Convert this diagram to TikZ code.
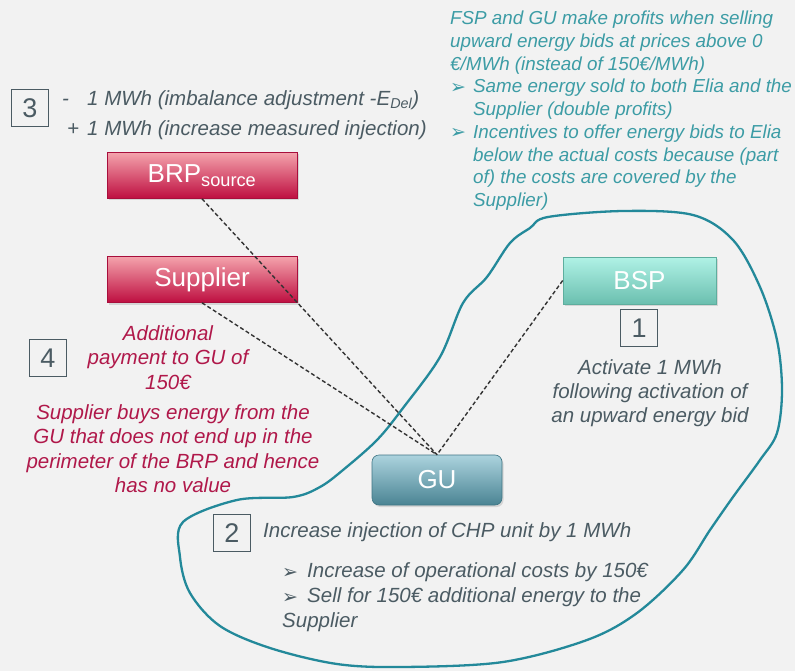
\documentclass[tikz,border=0pt]{standalone}
\usepackage{fontspec}
\setmainfont{Liberation Sans}
\newfontfamily\dingfont{DejaVu Sans}
\usetikzlibrary{shadows}
\definecolor{bgfill}{HTML}{F2F2F2}
\definecolor{fsptxt}{HTML}{3C9CA5}
\definecolor{gutxt}{HTML}{4B5B63}
\definecolor{suptxt}{HTML}{B0184A}
\definecolor{loopline}{HTML}{23899A}
\definecolor{redtop}{HTML}{F4A3AC}
\definecolor{redbot}{HTML}{BE0E40}
\definecolor{redline}{HTML}{A80E3C}
\definecolor{bsptop}{HTML}{B0F2E6}
\definecolor{bspbot}{HTML}{6BBFAF}
\definecolor{bspline}{HTML}{5EAE9E}
\definecolor{gutop}{HTML}{ACD3DE}
\definecolor{gubot}{HTML}{4A8493}
\definecolor{guline}{HTML}{3E7584}
\newcommand{\arrbul}[1]{\makebox[#1][l]{\raisebox{-0.5pt}{\dingfont\fontsize{19}{19}\selectfont ➢}}}
\tikzset{
  actor/.style={rectangle, line width=0.6pt, text=white,
    font=\fontsize{26}{28}\selectfont,
    drop shadow={opacity=0.25, shadow xshift=1.5pt, shadow yshift=-2pt}},
  redbox/.style={actor, draw=redline, top color=redtop, bottom color=redbot,
    minimum width=190pt, minimum height=46pt},
  bspbox/.style={actor, draw=bspline, top color=bsptop, bottom color=bspbot,
    minimum width=153pt, minimum height=47pt},
  gubox/.style={actor, draw=guline, top color=gutop, bottom color=gubot,
    rounded corners=7pt, minimum width=130pt, minimum height=50pt},
  numbox/.style={draw=gutxt, line width=0.9pt, minimum size=37pt, inner sep=0pt,
    text=gutxt, font=\fontsize{27}{27}\selectfont},
  note/.style={inner sep=0pt, font=\itshape\fontsize{20.5}{24.5}\selectfont},
  link/.style={draw=black!80, dash pattern=on 4pt off 2.5pt, line width=1.4pt}
}
\begin{document}
\begin{tikzpicture}[x=1pt,y=-1pt]
  \fill[bgfill] (0,0) rectangle (795,671);
  \useasboundingbox (0,0) rectangle (795,671);

  \draw[loopline, line width=2.3pt] plot[smooth cycle, tension=0.55] coordinates {
    (548,217) (623,211) (693,215) (733,240) (760,287) (777,340) (782,390)
    (777,433) (760,460) (733,497) (710,530) (683,570) (637,613) (587,640)
    (503,662) (403,667) (337,664) (270,648) (220,626) (190,593) (180,557)
    (183,522) (237,500) (293,497) (320,487) (343,470) (377,440) (403,408)
    (440,357) (463,303) (487,277) (510,243) (530,228)};

  \node (brp) [redbox] at (202,175.5) {BRP\textsubscript{source}};
  \node (sup) [redbox] at (202,279.5) {Supplier};
  \node (bsp) [bspbox] at (639.5,280.5) {BSP};
  \node (gu)  [gubox]  at (437,480) {GU};

  \node (n1) [numbox] at (639,328) {1};
  \node (n2) [numbox] at (232,533) {2};
  \node (n3) [numbox] at (30,108) {3};
  \node (n4) [numbox] at (48,358) {4};

  \node (fsp) [note, text=fsptxt, anchor=north west, align=left,
    font=\itshape\fontsize{18.8}{22.7}\selectfont] at (450,11)
    {FSP and GU make profits when selling\\
     upward energy bids at prices above 0\\
     €/MWh (instead of 150€/MWh)\\
     \arrbul{23pt}Same energy sold to both Elia and the\\
     \hspace*{23pt}Supplier (double profits)\\
     \arrbul{23pt}Incentives to offer energy bids to Elia\\
     \hspace*{23pt}below the actual costs because (part\\
     \hspace*{23pt}of) the costs are covered by the\\
     \hspace*{23pt}Supplier)};
  \node (imb) [note, text=gutxt, anchor=north west, align=left,
    font=\itshape\fontsize{20.5}{30}\selectfont] at (62,90)
    {\makebox[25pt][l]{-}1 MWh (imbalance adjustment -\textit{E}\textsubscript{\textit{Del}})\\
     \makebox[25pt][l]{\hspace{5pt}+}1 MWh (increase measured injection)};
  \node (pay) [note, text=suptxt, anchor=north, align=center] at (168,325)
    {Additional\\payment to GU of\\150€};
  \node (buy) [note, text=suptxt, anchor=north, align=center] at (173,404)
    {Supplier buys energy from the\\GU that does not end up in the\\
     perimeter of the BRP and hence\\has no value};
  \node (act) [note, text=gutxt, anchor=north, align=center, font=\itshape\fontsize{20.5}{24}\selectfont] at (650,359)
    {Activate 1 MWh\\following activation of\\an upward energy bid};
  \node (chp) [note, text=gutxt, anchor=base west] at (263,537.4)
    {Increase injection of CHP unit by 1 MWh};
  \node (cost) [note, text=gutxt, anchor=north west, align=left,
    font=\itshape\fontsize{20.5}{25}\selectfont] at (282,562.5)
    {\arrbul{25pt}Increase of operational costs by 150€\\
     \arrbul{25pt}Sell for 150€ additional energy to the\\
     Supplier};

  \path[link]
    (brp.south) edge (gu.north)
    (sup.south) edge (gu.north)
    (bsp.west)  edge (gu.north);
\end{tikzpicture}
\end{document}
